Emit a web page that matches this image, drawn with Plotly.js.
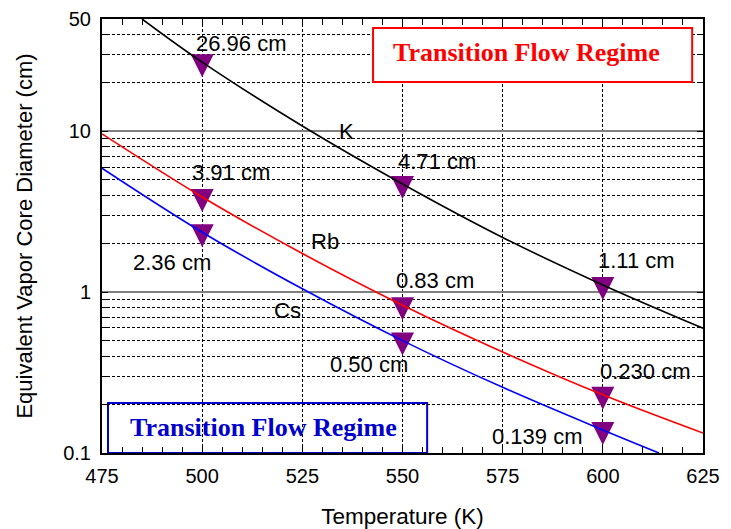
<!DOCTYPE html>
<html>
<head>
<meta charset="utf-8">
<script src="https://cdn.plot.ly/plotly-3.0.1.min.js"></script>
<style>
  html, body { margin: 0; padding: 0; background: #fff; }
  #chart { width: 731px; height: 529px; }
</style>
</head>
<body>
<div id="chart"></div>
<script>
// Vapor core diameter (cm) against temperature (K) for each working fluid
const tempK  = [485, 500, 525, 550, 575, 600, 625];
const diamK  = [50, 26.96, 10.8, 4.71, 2.19, 1.11, 0.597];
const tempRb = [475, 500, 525, 550, 575, 600, 625];
const diamRb = [9.65, 3.91, 1.74, 0.83, 0.425, 0.230, 0.133];
const tempCs = [475, 500, 525, 550, 575, 600, 614];
const diamCs = [5.9, 2.36, 1.05, 0.50, 0.256, 0.139, 0.100];

// Marked design points and how many decimals their labels show
const pointTemp   = [500, 500, 500, 550, 550, 550, 600, 600, 600];
const pointDiam   = [26.96, 3.91, 2.36, 4.71, 0.83, 0.50, 1.11, 0.230, 0.139];
const pointDigits = [2, 2, 2, 2, 2, 2, 2, 3, 3];

// Axis ticks
const xTickVals = [475, 500, 525, 550, 575, 600, 625];
const yTickVals = [0.1, 1, 10, 50];
const yTickText = ['0.1', '1', '10', '50'];
const yMinorVals = [0.2, 0.3, 0.4, 0.5, 0.6, 0.7, 0.8, 0.9,
                    2, 3, 4, 5, 6, 7, 8, 9, 20, 30, 40];

// Fluid names written next to their curves
const fluidNames = ['K', 'Rb', 'Cs'];
const fluidNameTemp = [536, 530.7, 521.2];
const fluidNameDiam = [9.93, 2.07, 0.774];

const regimeText = 'Transition Flow Regime';

const SANS = 'Liberation Sans, Arial, sans-serif';
const SERIF = 'Liberation Serif, Times New Roman, serif';

// pixel offsets of each value label from its marker
const labelShift = [[39, 19], [29, 24], [-30, -30], [34, 22], [32, 25],
                    [-34, -24], [34, 24], [43, 23], [-65, -6]];

const curve = (x, y, color) => ({
  x: x, y: y, type: 'scatter', mode: 'lines',
  line: { color: color, width: 1.6, shape: 'spline', smoothing: 1 },
  hoverinfo: 'skip'
});

const traces = [
  curve(tempK, diamK, '#000000'),
  curve(tempRb, diamRb, '#ff0000'),
  curve(tempCs, diamCs, '#0000ff')
];

// downward triangles drawn at each design point
const markerShapes = pointTemp.map((t, i) => ({
  type: 'path', xref: 'x', yref: 'y',
  xsizemode: 'pixel', ysizemode: 'pixel',
  xanchor: t, yanchor: pointDiam[i],
  path: 'M -11.5 8 L 11.5 8 L 0 -15 Z',
  fillcolor: '#800080', line: { width: 0 }, layer: 'between'
}));

const regimeBoxes = [
  { type: 'rect', xref: 'paper', yref: 'paper',
    x0: 0.451, x1: 0.982, y0: 0.855, y1: 0.979,
    fillcolor: '#ffffff', line: { color: '#ff0000', width: 2 }, layer: 'above' },
  { type: 'rect', xref: 'paper', yref: 'paper',
    x0: 0.010, x1: 0.541, y0: 0.0, y1: 0.115,
    fillcolor: 'rgba(0,0,0,0)', line: { color: '#0000cc', width: 2 }, layer: 'between' }
];

const valueLabels = pointTemp.map((t, i) => ({
  x: t, y: Math.log10(pointDiam[i]), xref: 'x', yref: 'y',
  text: pointDiam[i].toFixed(pointDigits[i]) + ' cm',
  showarrow: false, xshift: labelShift[i][0], yshift: labelShift[i][1],
  xanchor: 'center', yanchor: 'middle',
  font: { family: SANS, size: 22, color: '#000' }
}));

const nameLabels = fluidNames.map((n, i) => ({
  x: fluidNameTemp[i], y: Math.log10(fluidNameDiam[i]), xref: 'x', yref: 'y',
  text: n, showarrow: false, xanchor: 'center', yanchor: 'middle',
  font: { family: SANS, size: 22, color: '#000' }
}));

const regimeLabels = [
  { x: 0.707, y: 0.922, xref: 'paper', yref: 'paper', showarrow: false,
    xanchor: 'center', yanchor: 'middle',
    text: '<b>' + regimeText + '</b>',
    font: { family: SERIF, size: 26, color: '#ff0000' } },
  { x: 0.268, y: 0.058, xref: 'paper', yref: 'paper', showarrow: false,
    xanchor: 'center', yanchor: 'middle',
    text: '<b>' + regimeText + '</b>',
    font: { family: SERIF, size: 26, color: '#0000cc' } }
];

const layout = {
  width: 731, height: 529,
  margin: { l: 102, r: 28, t: 19, b: 76 },
  paper_bgcolor: '#ffffff', plot_bgcolor: '#ffffff',
  showlegend: false,
  xaxis: {
    range: [475, 625], tickvals: xTickVals,
    ticks: 'inside', ticklen: 6, tickcolor: '#000', tickwidth: 1,
    showline: true, linecolor: '#000', linewidth: 2, mirror: 'ticks',
    showgrid: true, gridcolor: '#000', gridwidth: 1, griddash: '3px,2px',
    zeroline: false, ticklabelstandoff: 4,
    tickfont: { family: SANS, size: 20, color: '#000' },
    minor: { dtick: 5, tick0: 475, ticks: 'inside', ticklen: 6,
             tickcolor: '#000', tickwidth: 1, showgrid: false },
    title: { text: 'Temperature (K)', standoff: 22,
             font: { family: SANS, size: 22.5, color: '#000' } }
  },
  yaxis: {
    type: 'log', range: [-1, Math.log10(50)],
    tickmode: 'array', tickvals: yTickVals, ticktext: yTickText,
    ticks: 'inside', ticklen: 6, tickcolor: '#000', tickwidth: 1,
    showline: true, linecolor: '#000', linewidth: 2, mirror: 'ticks',
    showgrid: true, gridcolor: '#7f7f7f', gridwidth: 2,
    zeroline: false, ticklabelstandoff: 5,
    tickfont: { family: SANS, size: 20, color: '#000' },
    minor: { tickmode: 'array', tickvals: yMinorVals, ticks: 'inside', ticklen: 6,
             tickcolor: '#000', tickwidth: 1,
             showgrid: true, gridcolor: '#000', gridwidth: 1, griddash: '3px,2px' },
    title: { text: 'Equivalent Vapor Core Diameter (cm)', standoff: 24,
             font: { family: SANS, size: 22, color: '#000' } }
  },
  shapes: regimeBoxes.concat(markerShapes),
  annotations: valueLabels.concat(nameLabels, regimeLabels)
};

Plotly.newPlot('chart', traces, layout, { displayModeBar: false, staticPlot: true });
</script>
</body>
</html>
